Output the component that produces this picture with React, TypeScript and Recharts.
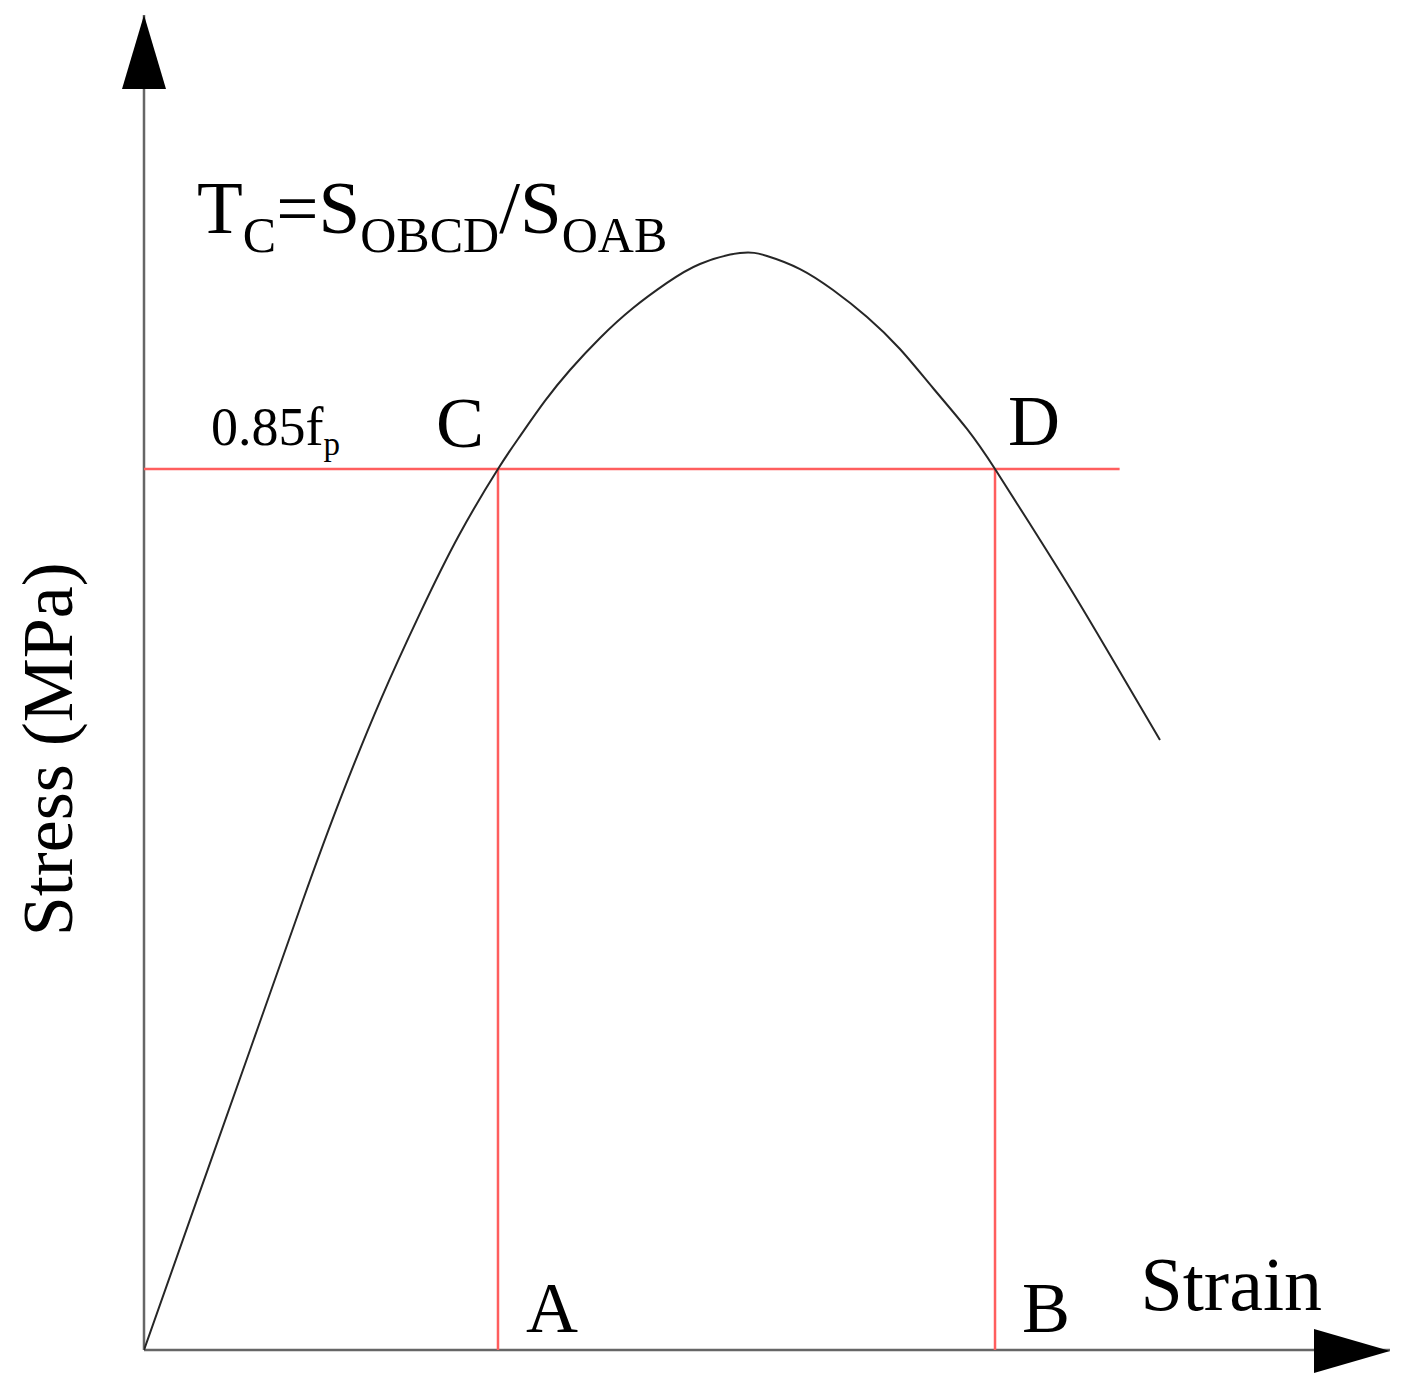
import React from 'react';
import { LineChart, Line, XAxis, YAxis, ReferenceLine, ReferenceDot } from 'recharts';

// Stress-strain curve (arbitrary normalised units)
const strain = [0, 4.25, 8.51, 12.76, 15.89, 19.02, 22.15, 25.28, 28.41, 30.18, 32.18, 34.19, 36.6, 39.25, 41.97, 44.62, 47.83, 50.0, 52.65, 55.3, 58.03, 60.67, 63.32, 66.05, 68.3, 71.11, 74.32, 77.53, 81.54];
const stress = [0, 11.24, 22.47, 33.71, 41.6, 48.76, 55.18, 61.03, 65.99, 68.46, 71.09, 73.41, 75.81, 78.05, 79.93, 81.35, 82.17, 81.95, 80.97, 79.4, 77.38, 74.98, 72.06, 68.99, 65.99, 61.87, 57.08, 52.06, 45.69];

// 0.85 f_p level and its intersections C (A below) and D (B below)
const level = 66;
const xC = 28.41;
const xD = 68.3;
const levelLineEnd = 78.3;

// axis extents (arrow tips)
const xMax = 100;
const yMax = 100;

const data = strain.map((x, i) => ({ x, y: stress[i] }));

const FONT = '"Liberation Serif", "Times New Roman", serif';
const RED = '#ff5e5e';
const AXIS = '#666';

const textShape = (content: React.ReactNode, dx: number, dy: number, size: number, extra: any = {}) =>
  (p: any) => (
    <text x={p.cx + dx} y={p.cy + dy} fontFamily={FONT} fontSize={size} fill="#000" {...extra}>
      {content}
    </text>
  );

const upArrow = (p: any) => (
  <polygon points={`${p.cx},${p.cy} ${p.cx - 22},${p.cy + 74} ${p.cx + 22},${p.cy + 74}`} fill="#000" />
);
const rightArrow = (p: any) => (
  <polygon points={`${p.cx},${p.cy + 1} ${p.cx - 76},${p.cy - 21} ${p.cx - 76},${p.cy + 23}`} fill="#000" />
);

const stressLabel = (p: any) => (
  <text
    x={p.cx - 72}
    y={p.cy}
    transform={`rotate(-90, ${p.cx - 72}, ${p.cy})`}
    textAnchor="middle"
    fontFamily={FONT}
    fontSize={72}
    fill="#000"
  >
    Stress (MPa)
  </text>
);

const title = (
  <>
    <tspan fontSize={75}>T</tspan>
    <tspan fontSize={50} dy={19}>C</tspan>
    <tspan fontSize={75} dy={-19}>=S</tspan>
    <tspan fontSize={50} dy={19}>OBCD</tspan>
    <tspan fontSize={75} dy={-19}>/S</tspan>
    <tspan fontSize={50} dy={19}>OAB</tspan>
  </>
);

const fp = (
  <>
    <tspan>0.85f</tspan>
    <tspan fontSize={33} dy={10}>p</tspan>
  </>
);

export default function App() {
  return (
    <div style={{ position: 'absolute', left: 0, top: 0, width: 1405, height: 1388, background: '#fff' }}>
      <LineChart width={1405} height={1388} data={data} margin={{ top: 15, right: 15, bottom: 38, left: 144 }}>
        <XAxis type="number" dataKey="x" domain={[0, xMax]} allowDataOverflow hide />
        <YAxis type="number" domain={[0, yMax]} allowDataOverflow hide />
        <ReferenceLine segment={[{ x: 0, y: 0 }, { x: xMax, y: 0 }]} stroke={AXIS} strokeWidth={2.5} ifOverflow="visible" />
        <ReferenceLine segment={[{ x: 0, y: 0 }, { x: 0, y: yMax }]} stroke={AXIS} strokeWidth={2.5} ifOverflow="visible" />
        <ReferenceLine segment={[{ x: 0, y: level }, { x: levelLineEnd, y: level }]} stroke={RED} strokeWidth={2.5} ifOverflow="visible" />
        <ReferenceLine segment={[{ x: xC, y: 0 }, { x: xC, y: level }]} stroke={RED} strokeWidth={2.5} ifOverflow="visible" />
        <ReferenceLine segment={[{ x: xD, y: 0 }, { x: xD, y: level }]} stroke={RED} strokeWidth={2.5} ifOverflow="visible" />
        <Line
          type="natural"
          dataKey="y"
          stroke="#262626"
          strokeWidth={2}
          dot={false}
          activeDot={false}
          isAnimationActive={false}
        />
        <ReferenceDot x={0} y={yMax} ifOverflow="visible" shape={upArrow} />
        <ReferenceDot x={xMax} y={0} ifOverflow="visible" shape={rightArrow} />
        <ReferenceDot x={0} y={yMax} ifOverflow="visible" shape={textShape(title, 53, 218, 75)} />
        <ReferenceDot x={0} y={level} ifOverflow="visible" shape={textShape(fp, 67, -24, 54)} />
        <ReferenceDot x={xC} y={level} ifOverflow="visible" shape={textShape('C', -62, -22, 72)} />
        <ReferenceDot x={xD} y={level} ifOverflow="visible" shape={textShape('D', 13, -24, 72)} />
        <ReferenceDot x={xC} y={0} ifOverflow="visible" shape={textShape('A', 28, -18, 72)} />
        <ReferenceDot x={xD} y={0} ifOverflow="visible" shape={textShape('B', 27, -18, 72)} />
        <ReferenceDot x={xMax} y={0} ifOverflow="visible" shape={textShape('Strain', -68, -40, 76, { textAnchor: 'end' })} />
        <ReferenceDot x={0} y={45} ifOverflow="visible" shape={stressLabel} />
      </LineChart>
    </div>
  );
}
